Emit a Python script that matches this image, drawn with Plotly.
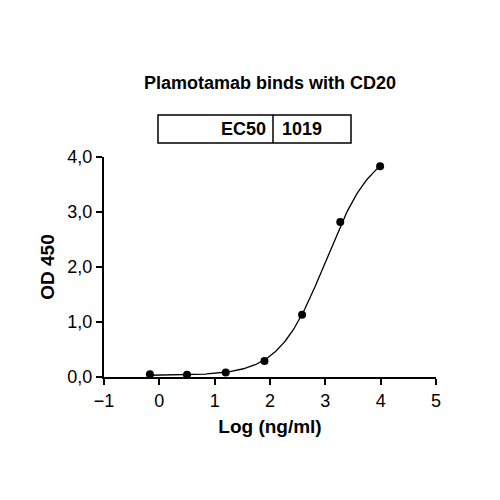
import numpy as np
import plotly.graph_objects as go

log_conc = [-0.17, 0.5, 1.2, 1.9, 2.58, 3.27, 3.99]
od450 = [0.05, 0.04, 0.08, 0.29, 1.13, 2.82, 3.83]

# 4PL fit parameters
bottom, top, log_ec50, hill = 0.03, 4.2, 3.008, 1.03
ec50_label = "1019"

xs = np.linspace(min(log_conc), max(log_conc), 200)
ys = bottom + (top - bottom) / (1 + 10 ** (hill * (log_ec50 - xs)))

fig = go.Figure()
fig.add_trace(go.Scatter(x=xs, y=ys, mode="lines", line=dict(color="black", width=1.3)))
fig.add_trace(go.Scatter(x=log_conc, y=od450, mode="markers",
                         marker=dict(color="black", size=8)))

axis = dict(showline=True, linecolor="black", linewidth=2, ticks="outside",
            ticklen=6, tickwidth=2, tickcolor="black", showgrid=False, zeroline=False,
            automargin=False, tickprefix="<b>", ticksuffix="</b>",
            tickfont=dict(size=18, color="black", family="Liberation Sans"),
            title_font=dict(size=19, color="black", family="Liberation Sans"))

fig.update_layout(
    width=500, height=500, plot_bgcolor="white", paper_bgcolor="white",
    showlegend=False, separators=",.",
    margin=dict(l=96, r=72, t=149, b=131),
    font=dict(family="Liberation Sans", color="black"),
    xaxis=dict(axis, range=[-1, 5], tickvals=[-1, 0, 1, 2, 3, 4, 5],
               title=dict(text="<b>Log (ng/ml)</b>", standoff=10)),
    yaxis=dict(axis, range=[0, 4], tickvals=[0, 1, 2, 3, 4], tickformat=".1f",
               title=dict(text="<b>OD 450</b>", standoff=8)),
)

fig.add_annotation(text="<b>Plamotamab binds with CD20</b>", xref="paper", yref="paper",
                   x=0.5, y=1.0, yshift=74, yanchor="middle", showarrow=False,
                   font=dict(size=18))
# EC50 table
x0, xm, x1 = (150 - 96) / 332, (265 - 96) / 332, (343 - 96) / 332
y0 = (369 - 135) / 220
y1 = (369 - 107) / 220
fig.add_shape(type="rect", xref="paper", yref="paper", x0=x0, x1=x1, y0=y0, y1=y1,
              line=dict(color="black", width=1.5))
fig.add_shape(type="line", xref="paper", yref="paper", x0=xm, x1=xm, y0=y0, y1=y1,
              line=dict(color="black", width=1.5))
fig.add_annotation(text="<b>EC50</b>", xref="paper", yref="paper", x=xm - 0.015,
                   xanchor="right", y=(y0 + y1) / 2, yanchor="middle", showarrow=False,
                   font=dict(size=18))
fig.add_annotation(text="<b>" + ec50_label + "</b>", xref="paper", yref="paper",
                   x=xm + 0.02, xanchor="left", y=(y0 + y1) / 2, yanchor="middle",
                   showarrow=False, font=dict(size=18))

fig.write_html("out.html")
